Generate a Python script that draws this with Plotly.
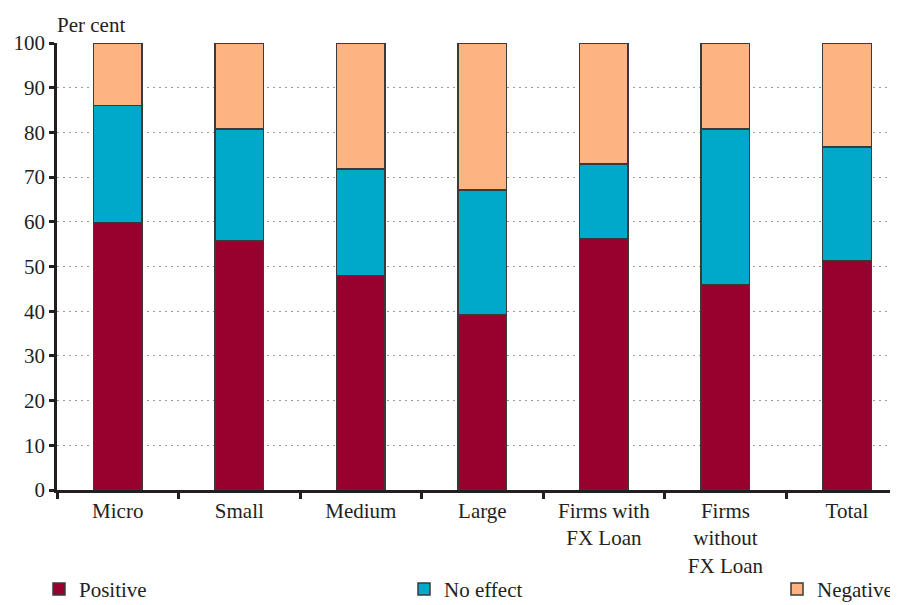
import plotly.graph_objects as go

categories = ["Micro", "Small", "Medium", "Large", "Firms with<br>FX Loan", "Firms<br>without<br>FX Loan", "Total"]
positive = [59.9, 55.7, 48.0, 39.1, 56.3, 46.0, 51.3]
no_effect = [26.1, 25.1, 23.8, 28.0, 16.6, 34.8, 25.4]
negative = [14.0, 19.2, 28.2, 32.9, 27.1, 19.2, 23.3]
y_ticks = [0, 10, 20, 30, 40, 50, 60, 70, 80, 90, 100]

FONT = "Liberation Serif"
FS = 21
TXT = "#231f20"
EDGE = "#3a3a3a"

W, H = 890, 597
L, T, B = 49, 35, 115
PW = W - L

fig = go.Figure()
series = [("Positive", positive, "#98002e", "legend"),
          ("No effect", no_effect, "#00a8ca", "legend2"),
          ("Negative", negative, "#fbb482", "legend3")]
for name, vals, col, lg in series:
    fig.add_trace(go.Bar(x=categories, y=vals, name=name, legend=lg, showlegend=True,
                         marker=dict(color=col, line=dict(color=EDGE, width=1.5)),
                         width=0.4))

leg_common = dict(orientation="v", yanchor="middle", y=-0.222, xanchor="left",
                  font=dict(family=FONT, size=FS, color=TXT), bgcolor="rgba(0,0,0,0)",
                  itemclick=False, itemdoubleclick=False, borderwidth=0, visible=True)
fig.update_layout(
    barmode="stack",
    showlegend=True,
    width=W, height=H,
    margin=dict(l=L, r=0, t=T, b=B, autoexpand=False),
    paper_bgcolor="white", plot_bgcolor="white",
    font=dict(family=FONT, size=FS, color=TXT),
    legend=dict(x=(31 - L) / PW, **leg_common),
    legend2=dict(x=(396 - L) / PW, **leg_common),
    legend3=dict(x=(769 - L) / PW, **leg_common),
    xaxis=dict(range=[-0.5, 6.42], showline=True, linecolor="#231f20", linewidth=2.5,
               ticks="outside", tickson="boundaries", ticklen=6, tickwidth=2.5,
               tickcolor="#231f20", showgrid=False, zeroline=False,
               tickfont=dict(family=FONT, size=FS, color=TXT)),
    yaxis=dict(range=[0, 100], tickvals=y_ticks, showline=True, linecolor="#231f20",
               linewidth=2.5, ticks="outside", ticklen=5, tickwidth=2.5,
               tickcolor="#231f20", showgrid=True, gridcolor="#9a9a9a", gridwidth=1.2,
               griddash="2px,4px", zeroline=False,
               tickfont=dict(family=FONT, size=FS, color=TXT)),
    annotations=[dict(text="Per cent", xref="paper", yref="paper", x=(47 - L) / PW,
                      y=1, xanchor="left", yanchor="bottom", yshift=4, showarrow=False,
                      font=dict(family=FONT, size=FS, color=TXT))],
)

fig.write_html("out.html")
